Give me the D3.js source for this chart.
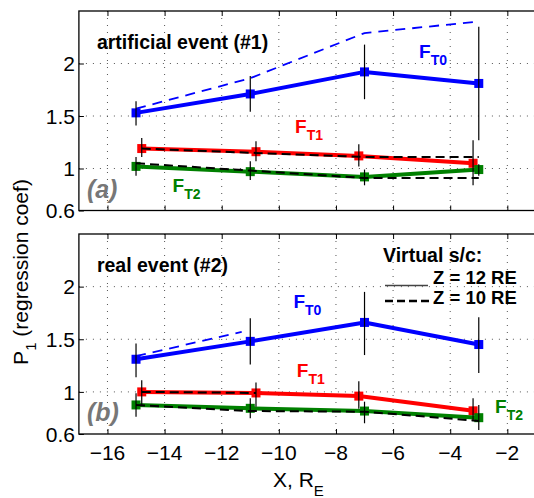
<!DOCTYPE html>
<html>
<head>
<meta charset="utf-8">
<script src="https://cdn.jsdelivr.net/npm/d3@7"></script>
<style>
  body { margin: 0; background: #fff; }
  svg { display: block; font-family: "Liberation Sans", Arial, sans-serif; }
</style>
</head>
<body>
<svg id="chart" width="534" height="498"></svg>
<script>
// x-positioner (R_E) for de fire virtuelle satellitter
var xPos = [-15, -11, -7, -3];
var xPosT1 = [-14.8, -10.8, -7.2, -3.2]; // F_T1 er lidt forskudt

var xTicks = [-16, -14, -12, -10, -8, -6, -4, -2];
var yTicks = [0.6, 1, 1.5, 2];

// panel (a): artificial event
var a_ft0 = [1.53, 1.71, 1.92, 1.81];
var a_ft0Lo = [1.41, 1.54, 1.66, 1.27];
var a_ft0Hi = [1.64, 1.88, 2.18, 2.35];
var a_ft0Z10 = [1.57, 1.86, 2.29, 2.40];
var a_ft1 = [1.19, 1.16, 1.12, 1.05];
var a_ft1Lo = [1.11, 1.07, 1.02, 0.84];
var a_ft1Hi = [1.29, 1.26, 1.23, 1.27];
var a_ft1Z10X = [-14.8, -11, -7, -3];
var a_ft1Z10 = [1.19, 1.15, 1.11, 1.11];
var a_ft2 = [1.02, 0.97, 0.92, 0.99];
var a_ft2Lo = [0.93, 0.89, 0.84, 0.93];
var a_ft2Hi = [1.11, 1.07, 0.99, 1.04];
var a_ft2Z10 = [1.05, 0.98, 0.91, 0.91];

// panel (b): real event
var b_ft0 = [1.31, 1.48, 1.66, 1.45];
var b_ft0Lo = [1.14, 1.26, 1.35, 1.18];
var b_ft0Hi = [1.46, 1.70, 1.95, 1.71];
var b_ft0Z10X = [-15, -11.3];
var b_ft0Z10 = [1.34, 1.57];
var b_ft1 = [1.00, 0.99, 0.96, 0.82];
var b_ft1Lo = [0.875, 0.86, 0.84, 0.72];
var b_ft1Hi = [1.11, 1.09, 1.10, 0.94];
var b_ft1Z10X = [-14.8, -10.8];
var b_ft1Z10 = [1.00, 0.99];
var b_ft2 = [0.876, 0.844, 0.818, 0.755];
var b_ft2Lo = [0.765, 0.749, 0.702, 0.638];
var b_ft2Hi = [0.987, 0.939, 0.907, 0.876];
var b_ft2Z10 = [0.876, 0.818, 0.812, 0.724];

var BLUE = "#0000ff", RED = "#ff0000", GREEN = "#008000";

var svg = d3.select("#chart");

// fælles x-skala
var x = d3.scaleLinear().domain([-17, -1]).range([78.9, 535.9]);

function zip(xs, ys) { return xs.map(function(v, i) { return [v, ys[i]]; }); }

var panels = [
  {
    top: 11, bottom: 210.5, tag: "(a)", title: "artificial event (#1)", xLabels: false,
    series: [
      { x: xPos, y: a_ft0, lo: a_ft0Lo, hi: a_ft0Hi, color: BLUE, z10x: xPos, z10: a_ft0Z10, z10color: BLUE },
      { x: xPosT1, y: a_ft1, lo: a_ft1Lo, hi: a_ft1Hi, color: RED, z10x: a_ft1Z10X, z10: a_ft1Z10, z10color: "#000" },
      { x: xPos, y: a_ft2, lo: a_ft2Lo, hi: a_ft2Hi, color: GREEN, z10x: xPos, z10: a_ft2Z10, z10color: "#000" }
    ],
    labels: [
      { sub: "T0", color: BLUE, x: -5.09, y: 2.05 },
      { sub: "T1", color: RED, x: -9.43, y: 1.335 },
      { sub: "T2", color: GREEN, x: -13.72, y: 0.779 }
    ]
  },
  {
    top: 234, bottom: 434, tag: "(b)", title: "real event (#2)", xLabels: true,
    series: [
      { x: xPos, y: b_ft0, lo: b_ft0Lo, hi: b_ft0Hi, color: BLUE, z10x: b_ft0Z10X, z10: b_ft0Z10, z10color: BLUE },
      { x: xPosT1, y: b_ft1, lo: b_ft1Lo, hi: b_ft1Hi, color: RED, z10x: b_ft1Z10X, z10: b_ft1Z10, z10color: "#000" },
      { x: xPos, y: b_ft2, lo: b_ft2Lo, hi: b_ft2Hi, color: GREEN, z10x: xPos, z10: b_ft2Z10, z10color: "#000" }
    ],
    labels: [
      { sub: "T0", color: BLUE, x: -9.49, y: 1.794 },
      { sub: "T1", color: RED, x: -9.37, y: 1.144 },
      { sub: "T2", color: GREEN, x: -2.43, y: 0.797 }
    ]
  }
];

panels.forEach(function(p) {
  var y = d3.scaleLinear().domain([0.6, 2.5]).range([p.bottom, p.top]);
  var g = svg.append("g");
  var left = x.range()[0], right = x.range()[1];

  // prikkede gitterlinjer
  g.append("g").selectAll("line").data(xTicks).enter().append("line")
    .attr("x1", function(d) { return x(d); }).attr("x2", function(d) { return x(d); })
    .attr("y1", p.top).attr("y2", p.bottom)
    .attr("stroke", "#555").attr("stroke-width", 1).attr("stroke-dasharray", "1,6");
  g.append("g").selectAll("line").data(yTicks.slice(1)).enter().append("line")
    .attr("x1", left).attr("x2", right)
    .attr("y1", function(d) { return y(d); }).attr("y2", function(d) { return y(d); })
    .attr("stroke", "#555").attr("stroke-width", 1).attr("stroke-dasharray", "1,6");

  // akser med ticks indad
  g.append("g").attr("transform", "translate(0," + p.bottom + ")")
    .call(d3.axisTop(x).tickValues(xTicks).tickSize(5).tickFormat(""))
    .call(function(s) { s.select(".domain").remove(); });
  g.append("g").attr("transform", "translate(0," + p.top + ")")
    .call(d3.axisBottom(x).tickValues(xTicks).tickSize(5).tickFormat(""))
    .call(function(s) { s.select(".domain").remove(); });
  var yAx = g.append("g").attr("transform", "translate(" + left + ",0)")
    .call(d3.axisRight(y).tickValues(yTicks).tickSize(5).tickFormat(d3.format("")));
  yAx.select(".domain").remove();
  yAx.selectAll("text")
    .attr("x", -4).attr("text-anchor", "end").attr("dy", "0.35em")
    .style("font-size", "21px").style("font-family", "Liberation Sans, Arial, sans-serif")
    .attr("fill", "#000");

  if (p.xLabels) {
    g.append("g").selectAll("text").data(xTicks).enter().append("text")
      .attr("x", function(d) { return x(d); })
      .attr("y", p.bottom + 26)
      .attr("text-anchor", "middle")
      .style("font-size", "21px")
      .text(function(d) { return "\u2212" + Math.abs(d); });
  }

  // ramme
  g.append("rect").attr("x", left).attr("y", p.top)
    .attr("width", right - left).attr("height", p.bottom - p.top)
    .attr("fill", "none").attr("stroke", "#000").attr("stroke-width", 1.3);

  var line = d3.line().x(function(d) { return x(d[0]); }).y(function(d) { return y(d[1]); });

  // blå stiplet (Z = 10 RE) bag de fulde linjer
  p.series.filter(function(s) { return s.z10color !== "#000"; }).forEach(function(s) {
    g.append("path").datum(zip(s.z10x, s.z10)).attr("d", line)
      .attr("fill", "none").attr("stroke", s.z10color).attr("stroke-width", 1.8)
      .attr("stroke-dasharray", "10,7");
  });

  // fulde linjer og markører (Z = 12 RE)
  p.series.forEach(function(s) {
    g.append("path").datum(zip(s.x, s.y)).attr("d", line)
      .attr("fill", "none").attr("stroke", s.color).attr("stroke-width", 4)
      .attr("stroke-linejoin", "round");
    g.append("g").selectAll("rect").data(zip(s.x, s.y)).enter().append("rect")
      .attr("x", function(d) { return x(d[0]) - 4.5; })
      .attr("y", function(d) { return y(d[1]) - 4.5; })
      .attr("width", 9).attr("height", 9)
      .attr("fill", s.color);
  });

  // sorte stiplede linjer ovenpå
  p.series.filter(function(s) { return s.z10color === "#000"; }).forEach(function(s) {
    g.append("path").datum(zip(s.z10x, s.z10)).attr("d", line)
      .attr("fill", "none").attr("stroke", "#000").attr("stroke-width", 2)
      .attr("stroke-dasharray", "9,5");
  });

  // fejlstænger
  p.series.forEach(function(s) {
    g.append("g").selectAll("line").data(s.x).enter().append("line")
      .attr("x1", function(d) { return x(d); }).attr("x2", function(d) { return x(d); })
      .attr("y1", function(d, i) { return y(s.hi[i]); })
      .attr("y2", function(d, i) { return y(s.lo[i]); })
      .attr("stroke", "#000").attr("stroke-width", 1.2);
  });

  // F-labels
  p.labels.forEach(function(l) {
    var t = g.append("text")
      .attr("x", x(l.x)).attr("y", y(l.y))
      .attr("fill", l.color).style("font-weight", "bold").style("font-size", "19px");
    t.append("tspan").text("F");
    t.append("tspan").attr("dy", 7).style("font-size", "14px").text(l.sub);
  });

  // titel og panelbogstav
  g.append("text").attr("x", left + 18).attr("y", p.top + 38)
    .style("font-weight", "bold").style("font-size", "19.5px")
    .text(p.title);
  g.append("text").attr("x", left + 8).attr("y", p.bottom - 13)
    .style("font-weight", "bold").style("font-style", "italic").style("font-size", "25px")
    .attr("fill", "#777")
    .text(p.tag);

  // forklaring i nederste panel
  if (p.xLabels) {
    var lx = 385;
    g.append("text").attr("x", 383).attr("y", 262)
      .style("font-weight", "bold").style("font-size", "19.5px").text("Virtual s/c:");
    g.append("line").attr("x1", lx).attr("x2", lx + 43).attr("y1", 285.5).attr("y2", 285.5)
      .attr("stroke", "#444").attr("stroke-width", 1.5);
    g.append("text").attr("x", 433).attr("y", 284)
      .style("font-weight", "bold").style("font-size", "18.5px").text("Z = 12 RE");
    g.append("line").attr("x1", lx).attr("x2", lx + 44).attr("y1", 301).attr("y2", 301)
      .attr("stroke", "#000").attr("stroke-width", 2.5).attr("stroke-dasharray", "8,4");
    g.append("text").attr("x", 433).attr("y", 304)
      .style("font-weight", "bold").style("font-size", "18.5px").text("Z = 10 RE");
  }
});

// aksetitler
var xl = svg.append("text").attr("x", 273).attr("y", 487).style("font-size", "21px");
xl.append("tspan").text("X, R");
xl.append("tspan").attr("dy", 9).style("font-size", "15px").text("E");

var yl = svg.append("text").attr("transform", "translate(28,272) rotate(-90)")
  .attr("text-anchor", "middle").style("font-size", "21px");
yl.append("tspan").text("P");
yl.append("tspan").attr("dy", 8).style("font-size", "15px").text("1");
yl.append("tspan").attr("dy", -8).text(" (regression coef)");
</script>
</body>
</html>
